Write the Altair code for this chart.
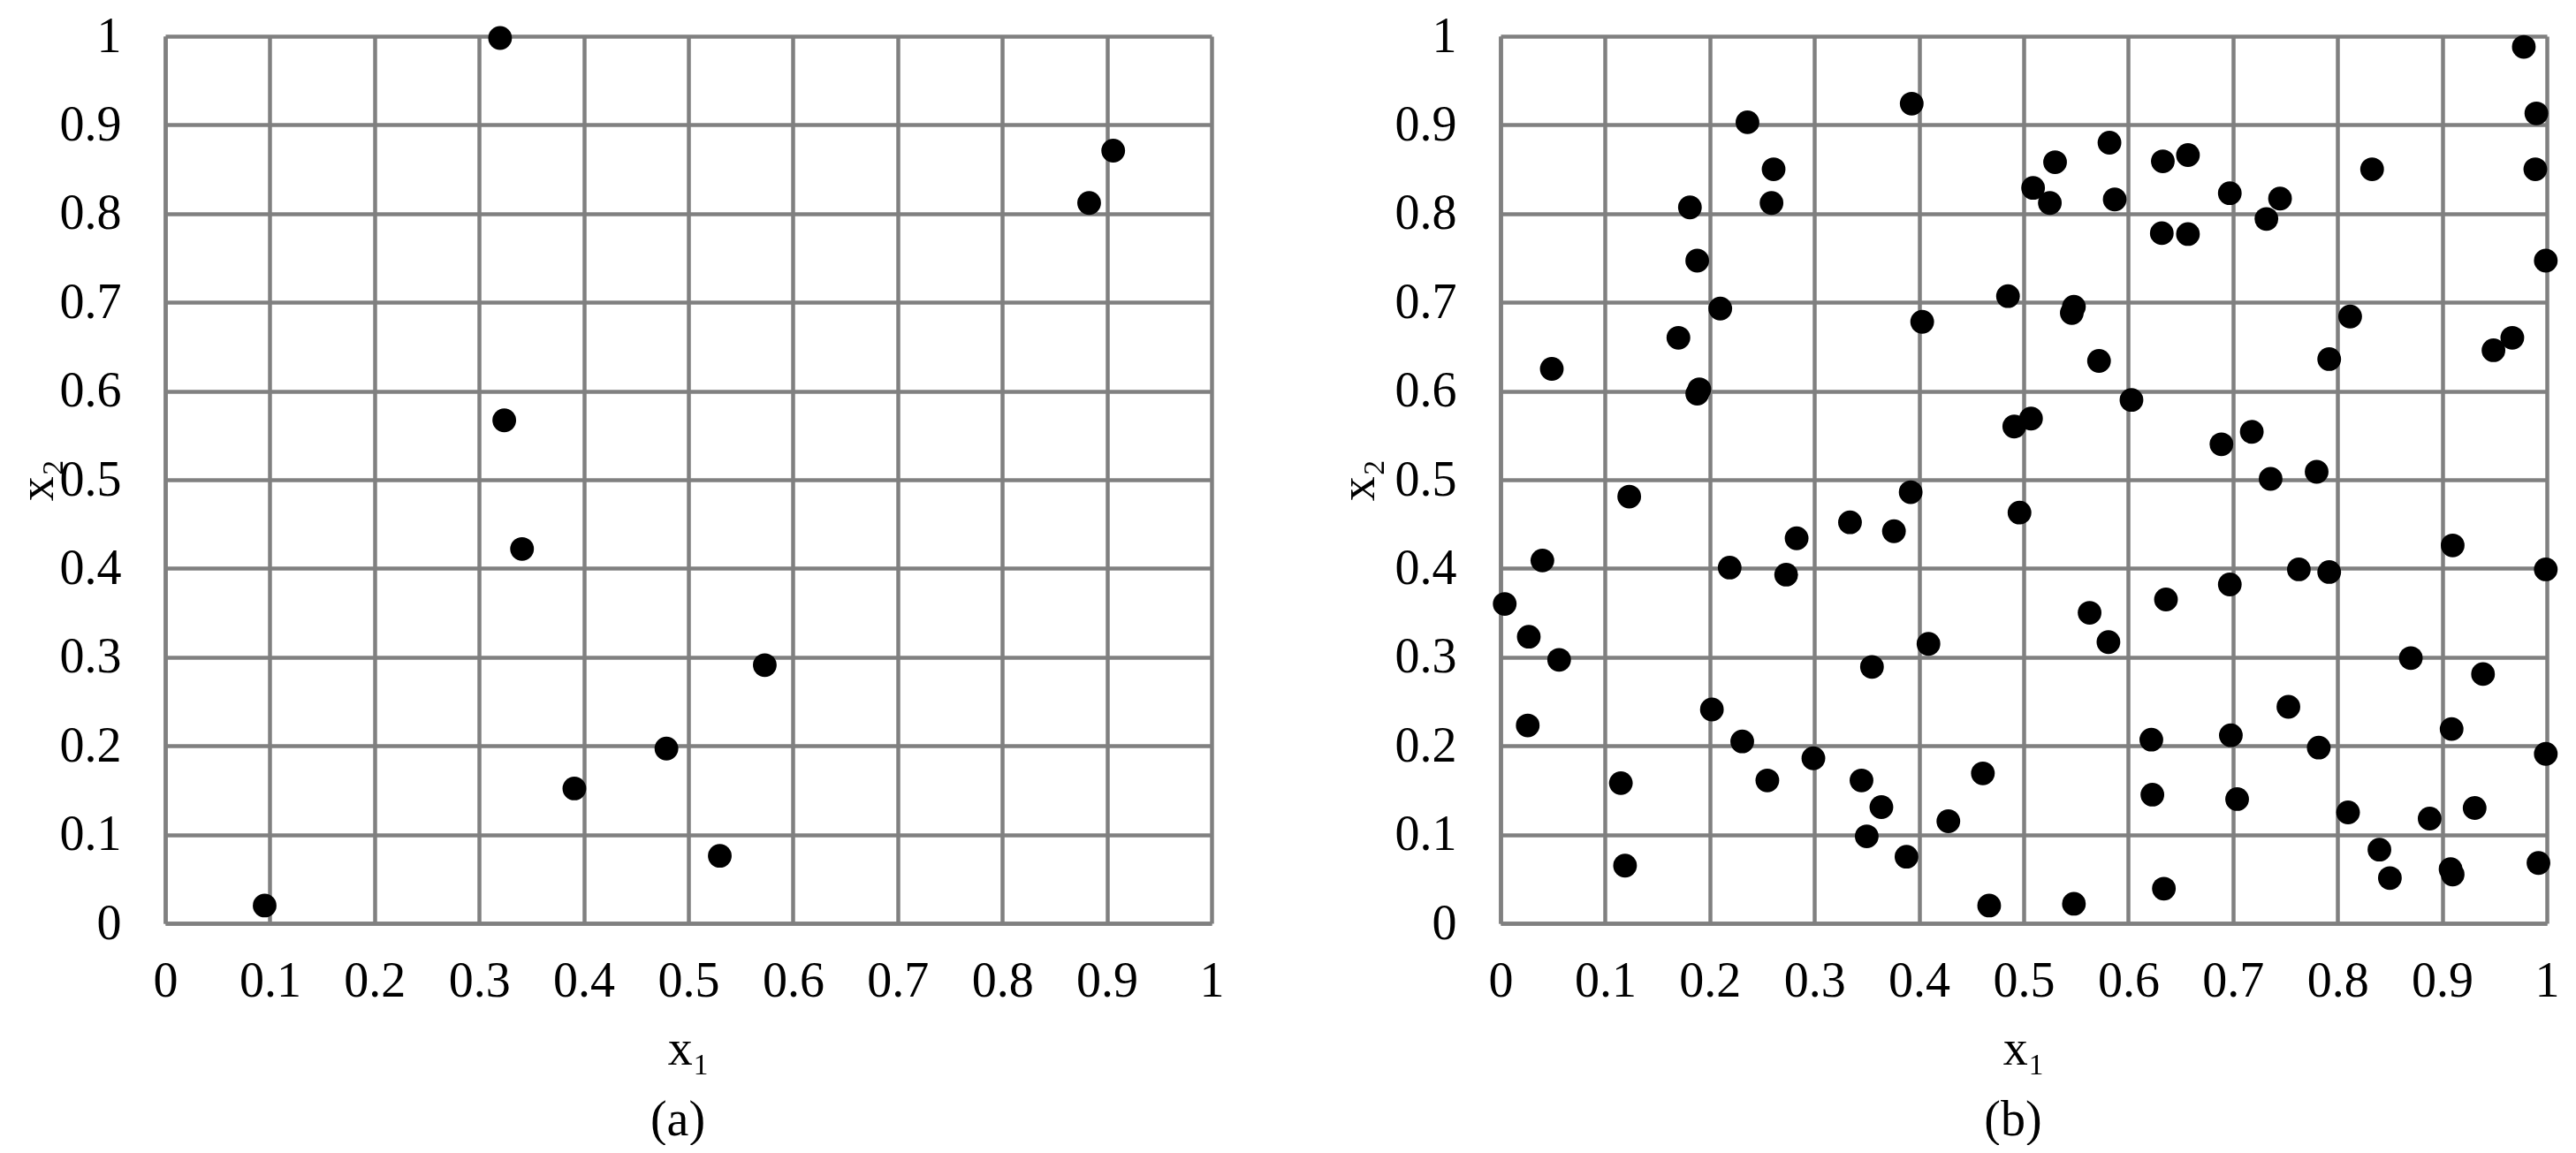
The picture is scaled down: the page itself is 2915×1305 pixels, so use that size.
import altair as alt
import pandas as pd

# Panel (a) sample points
a_x1 = [0.320, 0.906, 0.883, 0.324, 0.341, 0.573, 0.479, 0.391, 0.530, 0.095]
a_x2 = [0.998, 0.871, 0.812, 0.567, 0.422, 0.291, 0.197, 0.152, 0.076, 0.020]

# Panel (b) sample points
b_x1 = [0.393, 0.236, 0.261, 0.259, 0.181, 0.188, 0.210, 0.170, 0.049, 0.190,
        0.188, 0.403, 0.485, 0.491, 0.507, 0.978, 0.990, 0.989, 0.999, 0.833,
        0.530, 0.582, 0.509, 0.525, 0.587, 0.633, 0.657, 0.697, 0.745, 0.732,
        0.632, 0.657, 0.548, 0.546, 0.572, 0.812, 0.792, 0.949, 0.967, 0.603,
        0.689, 0.718, 0.736, 0.780, 0.123, 0.392, 0.496, 0.334, 0.376, 0.283,
        0.040, 0.219, 0.273, 0.004, 0.027, 0.056, 0.409, 0.355, 0.026, 0.202,
        0.231, 0.299, 0.115, 0.255, 0.345, 0.461, 0.364, 0.428, 0.350, 0.388,
        0.119, 0.467, 0.910, 0.763, 0.792, 0.999, 0.697, 0.636, 0.563, 0.581,
        0.870, 0.939, 0.753, 0.909, 0.622, 0.698, 0.782, 0.999, 0.623, 0.704,
        0.810, 0.888, 0.931, 0.840, 0.850, 0.908, 0.910, 0.992, 0.634, 0.548]
b_x2 = [0.924, 0.903, 0.850, 0.812, 0.807, 0.747, 0.693, 0.660, 0.625, 0.602,
        0.597, 0.678, 0.707, 0.560, 0.569, 0.988, 0.913, 0.850, 0.747, 0.850,
        0.858, 0.880, 0.829, 0.812, 0.816, 0.859, 0.866, 0.823, 0.817, 0.794,
        0.778, 0.777, 0.695, 0.688, 0.634, 0.684, 0.636, 0.646, 0.660, 0.590,
        0.540, 0.554, 0.501, 0.509, 0.481, 0.486, 0.463, 0.452, 0.442, 0.434,
        0.409, 0.401, 0.393, 0.360, 0.323, 0.297, 0.315, 0.289, 0.223, 0.241,
        0.205, 0.186, 0.158, 0.161, 0.161, 0.169, 0.131, 0.115, 0.098, 0.075,
        0.065, 0.020, 0.426, 0.399, 0.396, 0.399, 0.382, 0.365, 0.350, 0.317,
        0.299, 0.281, 0.244, 0.219, 0.207, 0.212, 0.198, 0.191, 0.145, 0.140,
        0.125, 0.118, 0.130, 0.083, 0.051, 0.061, 0.055, 0.068, 0.039, 0.022]

tick_values = [0, 0.1, 0.2, 0.3, 0.4, 0.5, 0.6, 0.7, 0.8, 0.9, 1]
panel_labels = ["(a)", "(b)"]

FONT = "Liberation Serif"
FS = 56
GRID = "#808080"


def panel(xs, ys, label, y_title_pad):
    df = pd.DataFrame({"x1": xs, "x2": ys})
    x_axis = alt.Axis(values=tick_values, format="~g", title="x\u2081",
                      labelPadding=38, titlePadding=22, labelFlush=False,
                      labelOverlap=False)
    y_axis = alt.Axis(values=tick_values, format="~g", title="x\u2082",
                      labelPadding=50, titlePadding=y_title_pad, labelOverlap=False)
    return alt.Chart(df).mark_circle(size=720, color="black", opacity=1).encode(
        x=alt.X("x1:Q", scale=alt.Scale(domain=[0, 1], nice=False, zero=False), axis=x_axis),
        y=alt.Y("x2:Q", scale=alt.Scale(domain=[0, 1], nice=False, zero=False), axis=y_axis),
    ).properties(
        width=1184, height=1004,
        title=alt.TitleParams(text=label, orient="bottom", anchor="middle", frame="group",
                              font=FONT, fontSize=FS, fontWeight="normal", color="black",
                              offset=26, dx=-12),
    )


chart = alt.hconcat(
    panel(a_x1, a_x2, panel_labels[0], -4),
    panel(b_x1, b_x2, panel_labels[1], 12),
    spacing=124,
).properties(
    padding={"left": 6, "top": 5, "right": 0, "bottom": 0},
).configure_view(stroke=None).configure_axis(
    grid=True, gridColor=GRID, gridWidth=4.5, gridOpacity=1,
    domainColor=GRID, domainWidth=4.5, ticks=False,
    labelFont=FONT, labelFontSize=FS, labelColor="black",
    titleFont=FONT, titleFontSize=FS, titleFontWeight="normal", titleColor="black",
)

chart.save("out.html", embed_options={"renderer": "svg", "actions": False})
